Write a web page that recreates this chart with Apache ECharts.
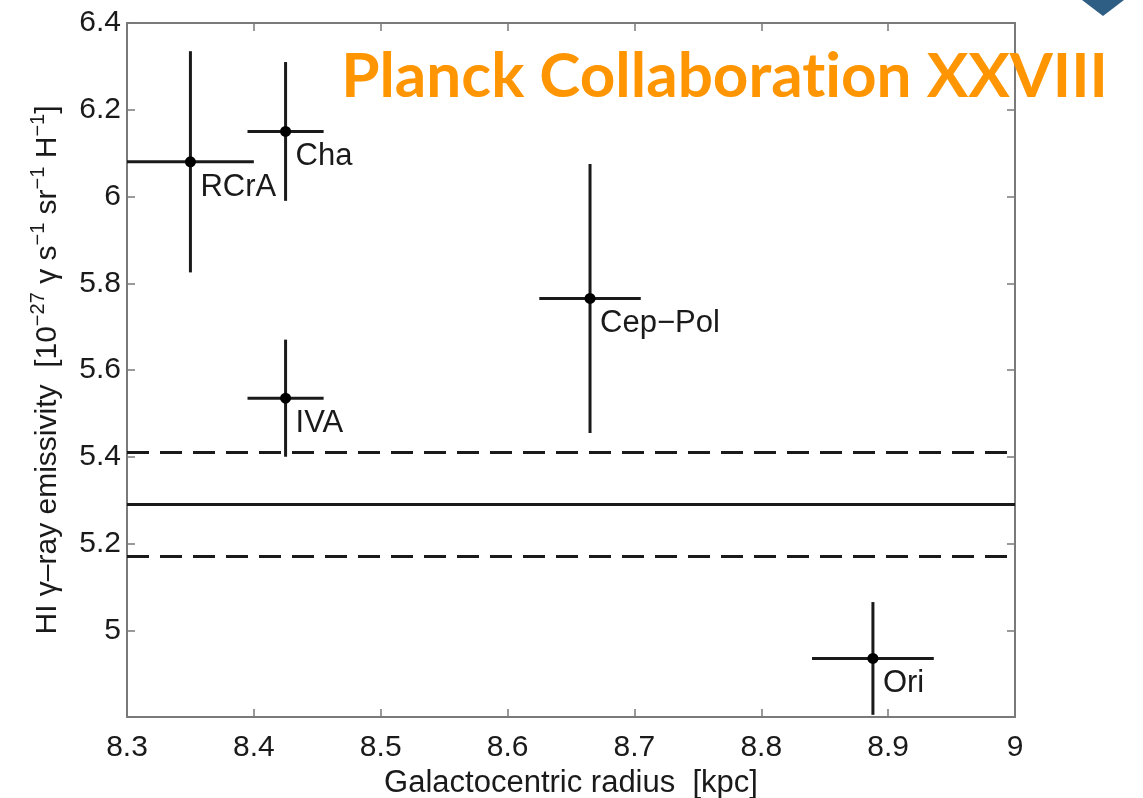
<!DOCTYPE html>
<html>
<head>
<meta charset="utf-8">
<title>HI gamma-ray emissivity vs Galactocentric radius</title>
<script src="https://cdn.jsdelivr.net/npm/echarts@6/dist/echarts.min.js"></script>
<style>
  html, body { margin: 0; padding: 0; background: #fff; }
  #chart { width: 1143px; height: 798px; }
</style>
</head>
<body>
<div id="chart"></div>
<script>
// Local clouds: name, Galactocentric radius (kpc), HI emissivity and their errors
const cloudNames = ['RCrA', 'Cha', 'IVA', 'Cep\u2212Pol', 'Ori'];
const radius = [8.35, 8.425, 8.425, 8.665, 8.888];
const radiusErr = [0.05, 0.03, 0.03, 0.04, 0.048];
const emissivity = [6.08, 6.15, 5.535, 5.765, 4.935];
const emissivityErr = [0.255, 0.16, 0.135, 0.31, 0.13];

// Average local emissivity and its uncertainty band
const meanEmissivity = 5.29;
const bandLow = 5.175;
const bandHigh = 5.405;

// Axis ranges and tick steps
const xRange = [8.3, 9];
const xStep = 0.1;
const yRange = [4.8, 6.4];
const yStep = 0.2;

const FONT = '"Liberation Sans", Arial, Helvetica, sans-serif';
const INK = '#1a1a1a';
const FRAME = '#7a7a7a';

const rows = cloudNames.map((n, i) => [radius[i], emissivity[i], radiusErr[i], emissivityErr[i], n]);

function fmt(v) { return String(+v.toFixed(1)); }

const baseAxis = {
  axisLine: { show: true, onZero: false, lineStyle: { color: FRAME, width: 2 } },
  axisTick: { show: true, inside: true, length: 8, lineStyle: { color: FRAME, width: 1.5 } },
  splitLine: { show: false }
};

const chart = echarts.init(document.getElementById('chart'), null, { renderer: 'canvas' });

chart.setOption({
  backgroundColor: '#ffffff',
  animation: false,
  title: {
    // zero-width non-joiner keeps "t" and "i" as separate glyphs
    text: 'Planck Collaborat\u200Cion XXVIII',
    right: 30,
    top: 41,
    textStyle: { fontFamily: 'Lato, "Noto Sans", sans-serif', fontWeight: 'bold', fontSize: 62, color: '#ff9500' }
  },
  grid: { left: 127, right: 128, top: 23, bottom: 81, containLabel: false, outerBoundsMode: 'none' },
  xAxis: [
    Object.assign({}, baseAxis, {
      type: 'value', position: 'bottom', min: xRange[0], max: xRange[1], interval: xStep,
      name: 'Galactocentric radius  [kpc]',
      nameLocation: 'middle', nameGap: 42,
      nameTextStyle: { fontFamily: FONT, fontSize: 31, color: INK },
      axisLabel: { margin: 16, fontFamily: FONT, fontSize: 30, color: INK, formatter: fmt }
    }),
    Object.assign({}, baseAxis, {
      type: 'value', position: 'top', min: xRange[0], max: xRange[1], interval: xStep,
      axisLabel: { show: false }
    })
  ],
  yAxis: [
    Object.assign({}, baseAxis, {
      type: 'value', position: 'left', min: yRange[0], max: yRange[1], interval: yStep,
      name: '{a|HI \u03b3\u2013ray emissivity  [10}{s|\u221227}{a| \u03b3 s}{s|\u22121}{a| sr}{s|\u22121}{a| H}{s|\u22121}{a|]}',
      nameLocation: 'middle', nameGap: 59, nameRotate: 90,
      nameTextStyle: {
        fontFamily: FONT, color: INK,
        rich: {
          a: { fontFamily: FONT, fontSize: 30, lineHeight: 40, color: INK },
          s: { fontFamily: FONT, fontSize: 20, lineHeight: 20, color: INK, verticalAlign: 'top' }
        }
      },
      axisLabel: {
        margin: 6, fontFamily: FONT, fontSize: 30, color: INK,
        formatter: v => (v < yRange[0] + yStep / 2 ? '' : fmt(v))
      }
    }),
    Object.assign({}, baseAxis, {
      type: 'value', position: 'right', min: yRange[0], max: yRange[1], interval: yStep,
      axisLabel: { show: false }
    })
  ],
  graphic: [
    { type: 'polygon', shape: { points: [[1082, 0], [1124, 0], [1103, 16]] }, style: { fill: '#2f5e85' } },
    { type: 'text', left: -15, top: 748, style: { text: ')', font: '44px ' + FONT, fill: '#000' } }
  ],
  series: [
    {
      type: 'line',
      xAxisIndex: 0, yAxisIndex: 0,
      data: [],
      silent: true,
      markLine: {
        silent: true,
        symbol: 'none',
        label: { show: false },
        data: [
          { yAxis: meanEmissivity, lineStyle: { type: 'solid', color: INK, width: 3 } },
          { yAxis: bandHigh, lineStyle: { type: [22, 11], color: INK, width: 3 } },
          { yAxis: bandLow, lineStyle: { type: [22, 11], color: INK, width: 3 } }
        ]
      }
    },
    {
      type: 'custom',
      xAxisIndex: 0, yAxisIndex: 0,
      data: rows,
      encode: { x: 0, y: 1 },
      renderItem: function (params, api) {
        const x = api.value(0), y = api.value(1), ex = api.value(2), ey = api.value(3);
        const name = rows[params.dataIndex][4];
        const c = api.coord([x, y]);
        const l = api.coord([x - ex, y]), r = api.coord([x + ex, y]);
        const t = api.coord([x, y + ey]), b = api.coord([x, y - ey]);
        const stroke = { stroke: INK, lineWidth: 3 };
        return {
          type: 'group',
          children: [
            { type: 'line', shape: { x1: l[0], y1: l[1], x2: r[0], y2: r[1] }, style: stroke },
            { type: 'line', shape: { x1: t[0], y1: t[1], x2: b[0], y2: b[1] }, style: stroke },
            { type: 'circle', shape: { cx: c[0], cy: c[1], r: 5.5 }, style: { fill: '#000' } },
            {
              type: 'text', x: c[0] + 10, y: c[1] + 10,
              style: { text: name, font: '31px ' + FONT, fill: INK, align: 'left', verticalAlign: 'top' }
            }
          ]
        };
      }
    }
  ]
});
</script>
</body>
</html>
